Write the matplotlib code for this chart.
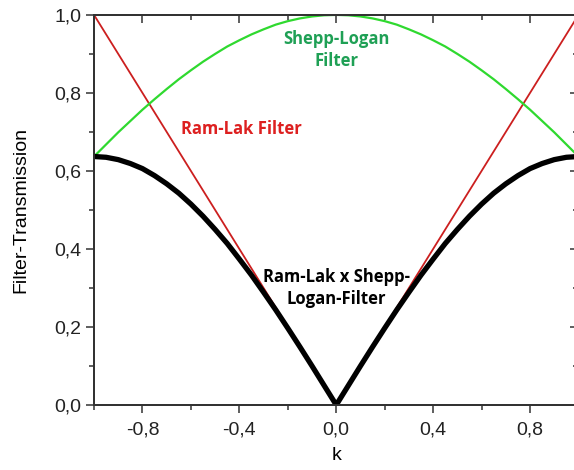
import matplotlib
matplotlib.use('Agg')
import matplotlib.pyplot as plt
from matplotlib.ticker import MultipleLocator, FuncFormatter

plt.rcParams['font.family'] = ['Liberation Sans', 'DejaVu Sans']

# k-Werte (Frequenz), Filterkurven
k = [-1.0, -0.95, -0.9, -0.85, -0.8, -0.75, -0.7, -0.65, -0.6, -0.55, -0.5,
     -0.45, -0.4, -0.35, -0.3, -0.25, -0.2, -0.15, -0.1, -0.05, 0.0,
     0.05, 0.1, 0.15, 0.2, 0.25, 0.3, 0.35, 0.4, 0.45, 0.5,
     0.55, 0.6, 0.65, 0.7, 0.75, 0.8, 0.85, 0.9, 0.95, 1.0]

shepp_logan = [0.637, 0.668, 0.699, 0.728, 0.757, 0.784, 0.810, 0.835, 0.858, 0.880, 0.900,
               0.919, 0.935, 0.950, 0.963, 0.975, 0.984, 0.991, 0.996, 0.999, 1.000,
               0.999, 0.996, 0.991, 0.984, 0.975, 0.963, 0.950, 0.935, 0.919, 0.900,
               0.880, 0.858, 0.835, 0.810, 0.784, 0.757, 0.728, 0.699, 0.668, 0.637]

product = [0.637, 0.635, 0.629, 0.619, 0.606, 0.588, 0.567, 0.543, 0.515, 0.484, 0.450,
           0.414, 0.374, 0.333, 0.289, 0.244, 0.197, 0.149, 0.100, 0.050, 0.000,
           0.050, 0.100, 0.149, 0.197, 0.244, 0.289, 0.333, 0.374, 0.414, 0.450,
           0.484, 0.515, 0.543, 0.567, 0.588, 0.606, 0.619, 0.629, 0.635, 0.637]

ram_lak_k = [-1.0, 0.0, 1.0]
ram_lak = [1.0, 0.0, 1.0]

xticks = [-0.8, -0.4, 0.0, 0.4, 0.8]

fig = plt.figure(figsize=(5.74, 4.70), dpi=100)
ax = fig.add_axes([0.1638, 0.1383, 0.844, 0.830])

ax.plot(ram_lak_k, ram_lak, color='#cc1f1f', lw=1.3, zorder=2)
ax.plot(k, shepp_logan, color='#2fd92f', lw=1.6, zorder=2)
ax.plot(k, product, color='black', lw=3.8, solid_capstyle='round', zorder=3)

lbl = dict(fontsize=12, fontweight='bold', family=['Open Sans', 'DejaVu Sans'],
           ha='center', va='center', linespacing=1.3)
ax.text(0.0, 0.91, 'Shepp-Logan\nFilter', color='#1fa055', **lbl)
ax.text(-0.39, 0.708, 'Ram-Lak Filter', color='#dd2020', **lbl)
ax.text(0.0, 0.30, 'Ram-Lak x Shepp-\nLogan-Filter', color='black', **lbl)

ax.set_xlim(-1.0, 1.0)
ax.set_ylim(0.0, 1.0)
ax.set_xticks(xticks)
ax.xaxis.set_minor_locator(MultipleLocator(0.2))
ax.yaxis.set_major_locator(MultipleLocator(0.2))
ax.yaxis.set_minor_locator(MultipleLocator(0.1))
comma = FuncFormatter(lambda v, p: ('%.1f' % v).replace('.', ','))
ax.xaxis.set_major_formatter(comma)
ax.yaxis.set_major_formatter(comma)

for s in ax.spines.values():
    s.set_linewidth(1.2)
    s.set_color('#333333')

ax.tick_params(which='both', direction='out', colors='#333333',
               labelcolor='#222222', labelsize=14, width=1.1)
ax.tick_params(which='major', length=6)
ax.tick_params(which='minor', length=3.5)
ax.tick_params(axis='x', pad=6)
ax.tick_params(axis='y', pad=3)

# gespiegelte Ticks oben/rechts nach innen
ax_top = ax.twiny()
ax_top.set_xlim(ax.get_xlim())
ax_top.set_xticks(xticks)
ax_top.xaxis.set_minor_locator(MultipleLocator(0.2))
ax_top.tick_params(which='both', direction='in', colors='#333333', width=1.1,
                   labeltop=False)
ax_top.tick_params(which='major', length=6)
ax_top.tick_params(which='minor', length=3.5)

ax_right = ax.twinx()
ax_right.set_ylim(ax.get_ylim())
ax_right.yaxis.set_major_locator(MultipleLocator(0.2))
ax_right.yaxis.set_minor_locator(MultipleLocator(0.1))
ax_right.tick_params(which='both', direction='in', colors='#333333', width=1.1,
                     labelright=False)
ax_right.tick_params(which='major', length=6)
ax_right.tick_params(which='minor', length=3.5)

for a in (ax_top, ax_right):
    for s in a.spines.values():
        s.set_linewidth(1.2)
        s.set_color('#333333')

ax.set_xlabel('k', fontsize=14, labelpad=6)
ax.set_ylabel('Filter-Transmission', fontsize=14, labelpad=18)

fig.savefig('out.png', dpi=100)
